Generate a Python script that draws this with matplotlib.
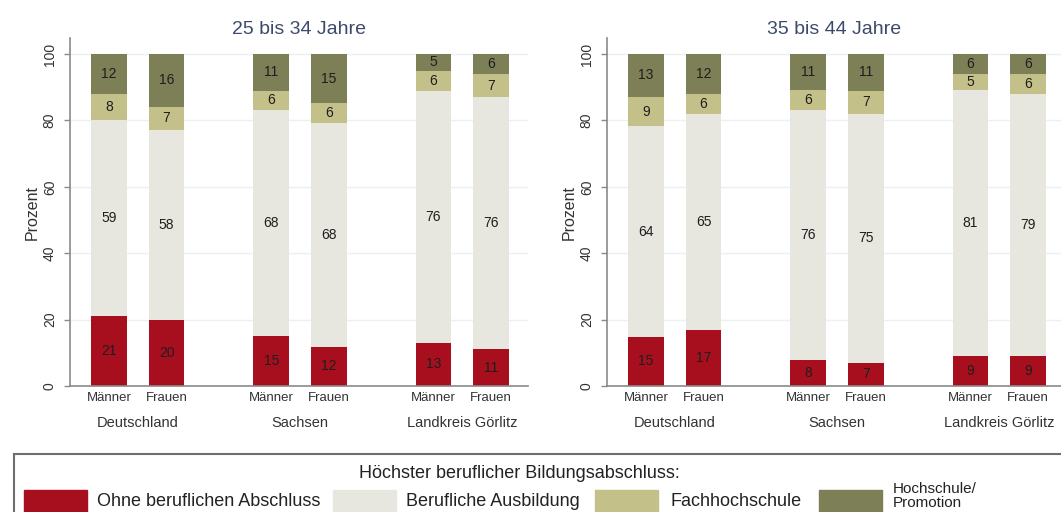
import numpy as np
import matplotlib
matplotlib.use("Agg")
import matplotlib.pyplot as plt
from matplotlib.patches import Rectangle

plt.rcParams["font.family"] = ["Liberation Sans", "DejaVu Sans"]

# data
groups = ["Deutschland", "Sachsen", "Landkreis Görlitz"]
sexes = ["Männer", "Frauen"]
titles = ["25 bis 34 Jahre", "35 bis 44 Jahre"]
categories = ["Ohne beruflichen Abschluss", "Berufliche Ausbildung",
              "Fachhochschule", "Hochschule/\nPromotion"]
colors = ["#a80f1e", "#e7e7df", "#c4c08a", "#7d7f56"]

# order: DE M, DE F, SN M, SN F, GR M, GR F
ohne_25 = [21, 20, 15, 12, 13, 11]
ausb_25 = [59, 58, 68, 68, 76, 76]
fh_25 = [8, 7, 6, 6, 6, 7]
hs_25 = [12, 16, 11, 15, 5, 6]

ohne_35 = [15, 17, 8, 7, 9, 9]
ausb_35 = [64, 65, 76, 75, 81, 79]
fh_35 = [9, 6, 6, 7, 5, 6]
hs_35 = [13, 12, 11, 11, 6, 6]

panels = [
    [ohne_25, ausb_25, fh_25, hs_25],
    [ohne_35, ausb_35, fh_35, hs_35],
]

W, H = 1061, 512
fig = plt.figure(figsize=(W / 100, H / 100), dpi=100)

positions = np.array([0, 1, 2.82, 3.82, 5.64, 6.64])
unit = 57.5          # pixels per x unit
ppy = 3.32           # pixels per percent


def add_axes_px(left, top, right, bottom):
    return fig.add_axes([left / W, 1 - bottom / H, (right - left) / W, (bottom - top) / H])


axes_px = [(70, 38, 528, 386), (607, 38, 1061, 386)]
gray = "#8a8a8a"

for k, (ax_box, series) in enumerate(zip(axes_px, panels)):
    ax = add_axes_px(*ax_box)
    left, top, right, bottom = ax_box
    ax.set_xlim(-0.68, -0.68 + (right - left) / unit)
    ax.set_ylim(0, (bottom - top) / ppy)

    # rounded shares don't always add to 100 -> scale bars to 100 %
    totals = np.sum(series, axis=0)
    cum = np.zeros(len(positions))
    for vals, c in zip(series, colors):
        h = np.array(vals) * 100 / totals
        bars = ax.bar(positions, h, bottom=cum, width=0.62, color=c, zorder=2)
        ax.bar_label(bars, labels=[str(v) for v in vals], label_type="center",
                     fontsize=10, color="#1e1e1e")
        cum += h

    ax.set_yticks([0, 20, 40, 60, 80, 100])
    ax.yaxis.grid(True, color="#e9f1f1", linewidth=1, zorder=0)
    ax.set_axisbelow(True)
    ax.tick_params(axis="y", length=4, width=1, color=gray, pad=5.5,
                   labelsize=10, labelcolor="#333333")
    plt.setp(ax.get_yticklabels(), rotation=90, va="center")

    ax.set_xticks(positions, sexes * 3)
    ax.tick_params(axis="x", length=0, pad=4, labelsize=9.5, labelcolor="#333333")

    for i, g in enumerate(groups):
        ax.annotate(g, xy=(positions[2 * i:2 * i + 2].mean(), 0),
                    xycoords=("data", "axes fraction"),
                    xytext=(0, -37), textcoords="offset pixels",
                    ha="center", va="center", fontsize=10.5, color="#333333")

    for s in ["top", "right"]:
        ax.spines[s].set_visible(False)
    for s in ["left", "bottom"]:
        ax.spines[s].set_color(gray)
        ax.spines[s].set_linewidth(1.2)

    ax.set_title(titles[k], fontsize=14, color="#3d4a6b", pad=3)

    fig.text((left - 38) / W, 1 - 212 / H, "Prozent", rotation=90,
             ha="center", va="center", fontsize=11.5, color="#333333")

# legend drawn by hand (box runs off the figure edge)
fig.add_artist(Rectangle((14 / W, 1 - 530 / H), (1080 - 14) / W, (530 - 454) / H,
                         transform=fig.transFigure, fill=False,
                         edgecolor="#6e6e6e", linewidth=1.5))
fig.text(519 / W, 1 - 473 / H, "Höchster beruflicher Bildungsabschluss:",
         ha="center", va="center", fontsize=13, color="#222222")

patch_x = [24, 333, 595, 819]
text_x = [97, 406, 670, 893]
for lab, c, px, tx in zip(categories, colors, patch_x, text_x):
    fig.add_artist(Rectangle((px / W, 1 - 514 / H), 63 / W, 24 / H,
                             transform=fig.transFigure, color=c))
    multi = "\n" in lab
    fig.text(tx / W, 1 - (496 if multi else 502) / H, lab,
             ha="left", va="center", fontsize=11 if multi else 13,
             linespacing=0.95, color="#222222")

fig.savefig("out.png", dpi=100)
